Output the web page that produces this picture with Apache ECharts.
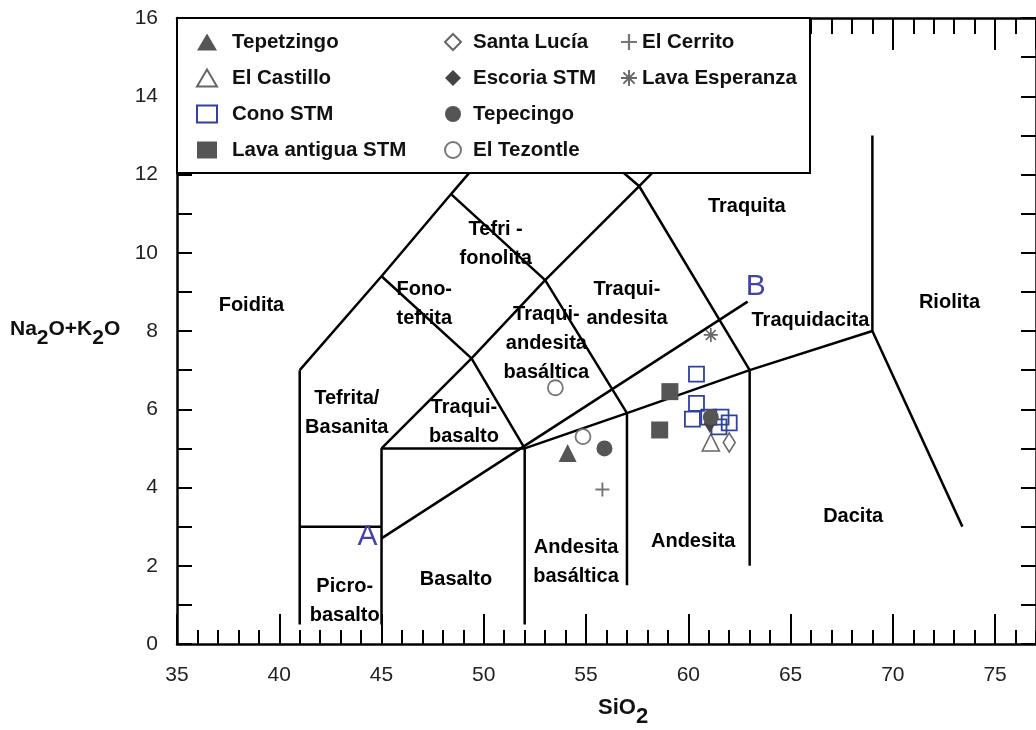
<!DOCTYPE html>
<html>
	<head>
		<meta charset="UTF-8">
		<title>TAS</title>
		<script type="text/javascript" src="https://cdn.jsdelivr.net/npm/echarts@6/dist/echarts.min.js"></script>
		<style>
			body { margin: 0; background: #fff; }
			#chart { width: 1036px; height: 730px; }
		</style>
	</head>
	<body>
		<div id="chart"></div>
	<script>
		// muestras (SiO2, Na2O+K2O)
		var tepetzingo = [[54.1, 4.88]];
		var elCastillo = [[61.1, 5.15]];
		var conoSTM = [[60.4, 6.9], [60.4, 6.15], [60.2, 5.75], [61.0, 5.8], [61.6, 5.8], [62.0, 5.65], [61.5, 5.55]];
		var lavaAntigua = [[59.1, 6.45], [58.6, 5.47]];
		var santaLucia = [[62.0, 5.15]];
		var escoria = [[61.05, 5.65]];
		var tepecingo = [[55.9, 5.0], [61.1, 5.8]];
		var elTezontle = [[54.85, 5.3], [53.5, 6.55]];
		var elCerrito = [[55.8, 3.95]];
		var lavaEsperanza = [[61.1, 7.9]];

		// limites del diagrama TAS
		var boundaries = [
			[[41, 0.5], [41, 7]],
			[[41, 3], [45, 3]],
			[[45, 0.5], [45, 5], [52, 5], [52, 0.5]],
			[[52, 5], [57, 5.9], [63, 7], [69, 8]],
			[[57, 1.5], [57, 5.9]],
			[[63, 2], [63, 7]],
			[[69, 8], [73.4, 3]],
			[[69, 8], [69, 13]],
			[[41, 7], [45, 9.4], [48.4, 11.5], [52.5, 14]],
			[[45, 5], [49.4, 7.3], [53, 9.3], [57.6, 11.7], [61, 13.5]],
			[[45, 9.4], [49.4, 7.3], [52, 5]],
			[[48.4, 11.5], [53, 9.3], [57, 5.9]],
			[[52.5, 14], [57.6, 11.7], [63, 7]]
		];
		var lineAB = [[45, 2.7], [62.9, 8.75]];

		var fieldNames = ["Foidita", "Tefrita/\nBasanita", "Fono-\ntefrita", "Tefri -\nfonolita", "Traqui-\nandesita", "Traquita",
			"Traqui-\nandesita\nbasáltica", "Traqui-\nbasalto", "Traquidacita", "Riolita", "Dacita", "Andesita",
			"Andesita\nbasáltica", "Basalto", "Picro-\nbasalto"];
		var fieldX = [38.64, 43.3, 47.09, 50.58, 57.0, 62.86, 53.06, 49.03, 65.97, 72.77, 68.06, 60.24, 54.51, 48.64, 43.2];
		var fieldY = [8.66, 5.9, 8.69, 10.22, 8.69, 11.17, 7.69, 5.67, 8.28, 8.74, 3.25, 2.61, 2.10, 1.64, 1.10];
		var abLabels = [[44.32, 2.73, "A"], [63.3, 9.12, "B"]];

		var legendCol1 = ["Tepetzingo", "El Castillo", "Cono STM", "Lava antigua STM"];
		var legendCol2 = ["Santa Lucía", "Escoria STM", "Tepecingo", "El Tezontle"];
		var legendCol3 = ["El Cerrito", "Lava Esperanza"];

		var FONT = "Liberation Sans, Arial, sans-serif";
		var plusPath = "path://M4.3,0H5.7V4.3H10V5.7H5.7V10H4.3V5.7H0V4.3H4.3Z";
		var starPath = "path://M0,4.4H10V5.6H0Z M4.4,0H5.6V10H4.4Z M1.05,1.9L1.9,1.05L8.95,8.1L8.1,8.95Z M8.1,1.05L8.95,1.9L1.9,8.95L1.05,8.1Z";

		function fieldData() {
			var out = [];
			for (var i = 0; i < fieldNames.length; i++) {
				out.push([fieldX[i], fieldY[i], fieldNames[i]]);
			}
			return out;
		}

		var series = [];
		for (var i = 0; i < boundaries.length; i++) {
			series.push({
				type: 'line', data: boundaries[i], showSymbol: false, silent: true, z: 2,
				lineStyle: {color: '#000', width: 2.5}
			});
		}
		series.push({
			type: 'line', data: lineAB, showSymbol: false, silent: true, z: 2,
			lineStyle: {color: '#000', width: 2.5}
		});
		series.push({
			type: 'scatter', data: fieldData(), symbolSize: 0, silent: true, z: 3,
			itemStyle: {opacity: 1},
			label: {
				show: true, position: 'inside', formatter: function (p) { return p.data[2]; },
				fontFamily: FONT, fontWeight: 'bold', fontSize: 20, color: '#000', lineHeight: 29, align: 'center',
				textBorderWidth: 0, opacity: 1
			}
		});
		series.push({
			type: 'scatter', data: abLabels, symbolSize: 0, silent: true, z: 3,
			itemStyle: {opacity: 1},
			label: {
				show: true, position: 'inside', formatter: function (p) { return p.data[2]; },
				fontFamily: FONT, fontSize: 30, color: '#4343a8', textBorderWidth: 0, opacity: 1
			}
		});

		function sample(name, data, symbol, size, style) {
			style.opacity = 1;
			return {name: name, type: 'scatter', data: data, symbol: symbol, symbolSize: size, z: 5, itemStyle: style};
		}
		var dark = '#555';
		var none = 'rgba(255,255,255,0)';
		series.push(sample("Tepetzingo", tepetzingo, 'triangle', 18, {color: dark}));
		series.push(sample("El Castillo", elCastillo, 'triangle', 17, {color: none, borderColor: '#666', borderWidth: 1.6}));
		series.push(sample("Cono STM", conoSTM, 'rect', 15, {color: none, borderColor: '#2f40a0', borderWidth: 1.8}));
		series.push(sample("Lava antigua STM", lavaAntigua, 'rect', 17, {color: dark}));
		series.push(sample("Santa Lucía", santaLucia, 'diamond', [12, 19], {color: none, borderColor: '#666', borderWidth: 1.6}));
		series.push(sample("Escoria STM", escoria, 'diamond', [12, 20], {color: '#444'}));
		series.push(sample("Tepecingo", tepecingo, 'circle', 16, {color: dark}));
		series.push(sample("El Tezontle", elTezontle, 'circle', 15, {color: none, borderColor: '#777', borderWidth: 1.8}));
		series.push(sample("El Cerrito", elCerrito, plusPath, 14, {color: '#777'}));
		series.push(sample("Lava Esperanza", lavaEsperanza, starPath, 14, {color: '#666'}));

		function legendAt(left, names, iconW, iconH, gap) {
			return {
				data: names, orient: 'vertical', left: left, top: 26, itemGap: 14,
				itemWidth: iconW, itemHeight: iconH, selectedMode: false, z: 6,
				textStyle: {fontFamily: FONT, fontWeight: 'bold', fontSize: 20.5, color: '#111', lineHeight: 22, padding: [0, 0, 0, gap]}
			};
		}

		function xAxisDef(pos, step, tickLen, labels) {
			return {
				type: 'value', min: 35, max: 77, interval: step, position: pos,
				axisLine: {show: step == 5, onZero: false, lineStyle: {color: '#000', width: 2.5}},
				axisTick: {inside: true, length: tickLen, lineStyle: {color: '#000', width: 2}},
				axisLabel: {show: labels, showMaxLabel: false, fontFamily: FONT, fontSize: 21, color: '#222', margin: 21},
				splitLine: {show: false}
			};
		}
		function yAxisDef(pos, labels) {
			return {
				type: 'value', min: 0, max: 16, interval: 1, position: pos,
				axisLine: {show: true, onZero: false, lineStyle: {color: '#000', width: 2.5}},
				axisTick: {inside: true, length: 15, lineStyle: {color: '#000', width: 2}},
				axisLabel: {
					show: labels, fontFamily: FONT, fontSize: 21, color: '#222', margin: 19,
					formatter: function (v) { return v % 2 === 0 ? v : ''; }
				},
				splitLine: {show: false}
			};
		}

		var richBold = function (size) {
			return {
				a: {fontFamily: FONT, fontWeight: 'bold', fontSize: size, lineHeight: size + 4, verticalAlign: 'top', fill: '#111'},
				s: {fontFamily: FONT, fontWeight: 'bold', fontSize: size, lineHeight: size + 4, padding: [9, 0, 0, 0], verticalAlign: 'top', fill: '#111'}
			};
		};

		var option = {
			animation: false,
			backgroundColor: '#fff',
			grid: {left: 177, top: 18, right: -6, bottom: 86},
			xAxis: [xAxisDef('bottom', 5, 30, true), xAxisDef('bottom', 1, 14, false),
				xAxisDef('top', 5, 32, false), xAxisDef('top', 1, 16, false)],
			yAxis: [yAxisDef('left', true), yAxisDef('right', false)],
			legend: [legendAt(191, legendCol1, 20, 17, 10), legendAt(439, legendCol2, 16, 16, 7), legendAt(616, legendCol3, 16, 16, 0)],
			graphic: [
				{type: 'rect', shape: {x: 177, y: 18, width: 633, height: 155}, z: 4,
					style: {fill: '#fff', stroke: '#000', lineWidth: 2}},
				{type: 'text', left: 598, top: 697, z: 4, style: {text: '{a|SiO}{s|2}', rich: richBold(22)}},
				{type: 'text', left: 10, top: 319, z: 4, style: {text: '{a|Na}{s|2}{a|O+K}{s|2}{a|O}', rich: richBold(21)}}
			],
			series: series
		};

		var chart = echarts.init(document.getElementById("chart"));
		chart.setOption(option);
	</script>
	</body>
</html>
